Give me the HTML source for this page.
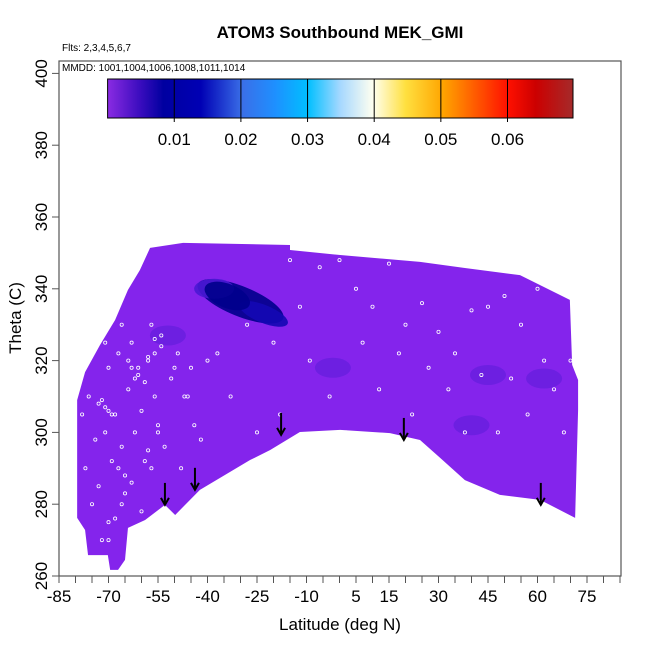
<!DOCTYPE html>
<html><head><meta charset="utf-8"><style>
html,body{margin:0;padding:0;background:#fff;}
svg text{font-family:"Liberation Sans",Arial,sans-serif;}
</style></head><body>
<svg id="chart" width="650" height="650" viewBox="0 0 650 650" xmlns="http://www.w3.org/2000/svg">
<defs>
<linearGradient id="cbar" x1="0" x2="1" y1="0" y2="0">
<stop offset="0" stop-color="#8a2be2"/><stop offset="0.07" stop-color="#3a0cbe"/><stop offset="0.12" stop-color="#0000a0"/>
<stop offset="0.2" stop-color="#0000b4"/><stop offset="0.29" stop-color="#3a6fe8"/><stop offset="0.36" stop-color="#1e90ff"/>
<stop offset="0.43" stop-color="#00bfff"/><stop offset="0.5" stop-color="#a6d8ff"/><stop offset="0.57" stop-color="#fffff0"/>
<stop offset="0.64" stop-color="#ffe040"/><stop offset="0.72" stop-color="#ffa500"/><stop offset="0.86" stop-color="#ff1000"/>
<stop offset="0.92" stop-color="#cc0000"/><stop offset="1" stop-color="#a52a2a"/>
</linearGradient>
<clipPath id="plotclip"><rect x="59" y="61" width="562" height="515"/></clipPath>
</defs>
<text x="340" y="38" text-anchor="middle" font-size="17" font-weight="bold">ATOM3 Southbound MEK_GMI</text>
<text x="62" y="51" font-size="10">Flts: 2,3,4,5,6,7</text>
<g id="plot" clip-path="url(#plotclip)"></g>
<rect x="59" y="61" width="562" height="515" fill="none" stroke="#555" stroke-width="1.2"/>
<text x="62" y="71" font-size="10">MMDD: 1001,1004,1006,1008,1011,1014</text>
<g id="cb"></g>
<g id="axes"></g>
<text x="340" y="630" text-anchor="middle" font-size="17">Latitude (deg N)</text>
<text transform="translate(21,318) rotate(-90)" text-anchor="middle" font-size="17">Theta (C)</text>
</svg>
<script>
const topLat=[-79.5,-77.1,-72.6,-68,-64.1,-60.5,-57.4,-47.4,-15,-15,0.2,24.4,38,54.7,69.8,70.5,72.3,72.3];
const topTheta=[309,316.8,324.3,331.3,339.7,345.2,351.4,352.8,352.2,350.8,349.4,347.5,345.8,343.8,336.9,318.8,314.6,306.2];
const botLat=[72.3,71.4,60.8,48.6,38,30.5,24.4,15.3,0.2,-12,-21,-27.1,-42.3,-49.8,-52.9,-58.9,-64.1,-65,-67.1,-69.5,-70.2,-76.2,-77.1,-79.5];
const botTheta=[306.2,276.2,281.2,282.6,286.7,292.9,297.9,299.8,300.7,300.1,295.1,292.3,284,277,279.8,275.6,273.4,264.5,261.7,261.7,265.8,265.8,272.8,276.2];
const blobLat=[-30,-23,-38,-2,45,40,62,-52,-34];
const blobTheta=[336.5,333,340,318,316,302,315,327,338];
const blobVal=[0.012,0.009,0.004,0.003,0.003,0.003,0.003,0.002,0.012];
const arrowLat=[-52.9,-43.8,-17.7,19.5,61];
const arrowTheta=[279.8,284,299.3,297.9,279.8];
const dotLat=[-78,-77,-76,-75,-74,-73,-73,-72,-71,-70,-70,-69,-68,-67,-66,-65,-64,-63,-62,-61,-60,-59,-58,-57,-56,-55,-54,-53,-51,-49,-48,-46,-45,-44,-42,-40,-37,-33,-28,-25,-20,-18,-15,-12,-9,-6,-3,0,2,5,7,10,12,15,18,20,22,25,27,30,33,35,38,40,43,45,48,50,52,55,57,60,62,65,68,70,-71,-66,-62,-58,-55,-50,-47,-66,-63,-60,-57,-70,-68,-72,-71,-70,-69,-64,-63,-61,-59,-58,-56,-56,-54,-67,-65];
const dotTheta=[305,290,310,280,298,308,285,270,300,275,318,292,305,322,296,288,312,325,300,318,306,292,320,330,310,302,324,296,315,322,290,310,318,302,298,320,322,310,330,300,325,305,348,335,320,346,310,348,300,340,325,335,312,347,322,330,305,336,318,328,312,322,300,334,316,335,300,338,315,330,305,340,320,312,300,320,325,330,315,295,300,318,310,280,286,278,290,270,276,309,307,306,305,320,318,316,314,321,322,326,327,290,283];
const cbTicks=[0.01,0.02,0.03,0.04,0.05,0.06];
const xTicks=[-85,-70,-55,-40,-25,-10,5,15,30,45,60,75];
const yTicks=[260,280,300,320,340,360,380,400];

const NS='http://www.w3.org/2000/svg';
const X=lat=>59+(lat+85)*3.3;
const Y=th=>576-(th-260)*3.59;
const CB=v=>107.6+v*6665;
function mk(tag,attrs,parent){const e=document.createElementNS(NS,tag);for(const k in attrs)e.setAttribute(k,attrs[k]);parent.appendChild(e);return e;}
function col(v){if(v>0.011)return '#00008c';if(v>0.006)return '#1408b4';if(v>0.003)return '#4a18d4';return '#6a1fe0';}
const plot=document.getElementById('plot');
let pts=topLat.map((l,i)=>X(l)+','+Y(topTheta[i]));
pts=pts.concat(botLat.map((l,i)=>X(l)+','+Y(botTheta[i])));
const region=mk('polygon',{points:pts.join(' '),fill:'#8424ec'},plot);


const rc=mk('clipPath',{id:'regclip'},plot);mk('polygon',{points:pts.join(' ')},rc);
const bg=mk('g',{'clip-path':'url(#regclip)'},plot);
const sizes=[[46,15],[26,9],[20,10],[18,10],[18,10],[18,10],[18,10],[18,10],[24,12]];
blobLat.forEach((l,i)=>{const v=blobVal[i];
 const cx=X(l),cy=Y(blobTheta[i]);
 const e=mk('ellipse',{cx:cx,cy:cy,rx:sizes[i][0],ry:sizes[i][1],fill:col(v),opacity:0.9,transform:(i<2||i==8)?`rotate(22 ${cx} ${cy})`:''},bg);
 
 });
dotLat.forEach((l,i)=>{const c=mk('circle',{cx:X(l),cy:Y(dotTheta[i]),r:1.6,fill:'none',stroke:'#fff','stroke-width':0.8},plot);
 
 });
arrowLat.forEach((l,i)=>{const x=X(l),y=Y(arrowTheta[i]);const g=mk('g',{stroke:'#000','stroke-width':2,fill:'none'},plot);
 
 
 mk('line',{x1:x,y1:y-22,x2:x,y2:y},g);mk('polyline',{points:`${x-4},${y-7} ${x},${y} ${x+4},${y-7}`},g);});
const cb=document.getElementById('cb');
const bar=mk('rect',{x:107.6,y:79,width:465.4,height:39,fill:'url(#cbar)',stroke:'#000','stroke-width':1},cb);


cbTicks.forEach(v=>{mk('line',{x1:CB(v),x2:CB(v),y1:79,y2:122,stroke:'#000'},cb);
 const t=mk('text',{x:CB(v),y:145,'text-anchor':'middle','font-size':17},cb);t.textContent=v.toFixed(2);
 
 });
const ax=document.getElementById('axes');
for(let l=-85;l<=85;l+=5)mk('line',{x1:X(l),x2:X(l),y1:576,y2:583,stroke:'#555'},ax);
xTicks.forEach(l=>{const t=mk('text',{x:X(l),y:602,'text-anchor':'middle','font-size':17},ax);t.textContent=l;
 
 });
yTicks.forEach(v=>{mk('line',{x1:52,x2:59,y1:Y(v),y2:Y(v),stroke:'#555'},ax);
 const t=mk('text',{transform:`translate(47,${Y(v)}) rotate(-90)`,'text-anchor':'middle','font-size':17},ax);t.textContent=v;
 
 });
</script>
</body></html>
